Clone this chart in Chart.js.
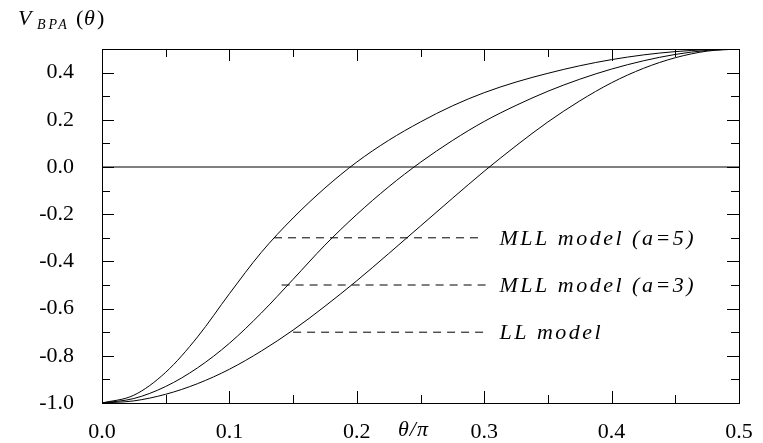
<!DOCTYPE html>
<html>
<head>
<meta charset="utf-8">
<title>V_BPA(theta)</title>
<script src="https://cdn.jsdelivr.net/npm/chart.js@4.4.0/dist/chart.umd.min.js"></script>
<style>
  body { margin: 0; background: white; }
  #chart { display: block; }
</style>
</head>
<body>
<canvas id="chart" width="763" height="443"></canvas>
<script>
// theta / pi sample points
const theta = [0, 0.025, 0.05, 0.075, 0.1, 0.125, 0.15, 0.175, 0.2, 0.225, 0.25,
  0.275, 0.3, 0.325, 0.35, 0.375, 0.4, 0.425, 0.45, 0.475, 0.5];

// MLL model (a=5) - leftmost curve
const vMLL5 = [-1, -0.967, -0.870, -0.720, -0.537, -0.362, -0.216, -0.089, 0.021, 0.113, 0.191,
  0.259, 0.315, 0.360, 0.397, 0.429, 0.455, 0.475, 0.489, 0.497, 0.5];
// MLL model (a=3) - middle curve
const vMLL3 = [-1, -0.981, -0.930, -0.851, -0.747, -0.619, -0.476, -0.331, -0.201, -0.084, 0.020,
  0.112, 0.193, 0.261, 0.321, 0.372, 0.415, 0.450, 0.477, 0.494, 0.5];
// LL model - rightmost curve
const vLL = [-1, -0.991, -0.963, -0.918, -0.857, -0.780, -0.691, -0.590, -0.482, -0.367, -0.250,
  -0.133, -0.018, 0.090, 0.191, 0.280, 0.357, 0.418, 0.463, 0.491, 0.5];

const xTicks = [0, 0.1, 0.2, 0.3, 0.4, 0.5];
const xMinorTicks = [0.05, 0.15, 0.25, 0.35, 0.45];
const yTicks = [-1.0, -0.8, -0.6, -0.4, -0.2, 0.0, 0.2, 0.4];
const yMinorTicks = [-0.9, -0.7, -0.5, -0.3, -0.1, 0.1, 0.3, 0.5];

// dashed legend lines
const modelNames = ['MLL model (a=5)', 'MLL model (a=3)', 'LL model'];
const modelLevels = [-0.3, -0.5, -0.7];
const dashStarts = [0.135, 0.141, 0.150];
const dashEnds = [0.298, 0.302, 0.302];
const nameStart = 0.312;

const toPoints = (xs, ys) => xs.map((x, i) => ({ x: x, y: ys[i] }));

const curveStyle = {
  borderColor: 'black',
  borderWidth: 1,
  pointRadius: 0,
  cubicInterpolationMode: 'monotone',
  fill: false
};

const datasets = [
  { ...curveStyle, label: modelNames[0], data: toPoints(theta, vMLL5) },
  { ...curveStyle, label: modelNames[1], data: toPoints(theta, vMLL3) },
  { ...curveStyle, label: modelNames[2], data: toPoints(theta, vLL) },
  // zero line
  { ...curveStyle, label: 'zero', data: [{ x: 0, y: 0 }, { x: 0.5, y: 0 }] }
];

modelLevels.forEach((lev, i) => {
  datasets.push({
    label: 'dash' + i,
    data: [{ x: dashStarts[i], y: lev }, { x: dashEnds[i], y: lev }],
    borderColor: 'black',
    borderWidth: 1,
    borderDash: [8, 6],
    pointRadius: 0
  });
});

const serif = '"Liberation Serif", "Times New Roman", serif';

// frame, inward ticks and the text bits
const decorations = {
  id: 'decorations',
  afterDatasetsDraw(chart) {
    const ctx = chart.ctx;
    const a = chart.chartArea;
    const xs = chart.scales.x;
    const ys = chart.scales.y;
    ctx.save();
    ctx.strokeStyle = 'black';
    ctx.lineWidth = 1;
    ctx.strokeRect(Math.round(a.left) + 0.5, Math.round(a.top) + 0.5,
      Math.round(a.right - a.left), Math.round(a.bottom - a.top));

    const tick = (x1, y1, x2, y2) => {
      ctx.beginPath();
      ctx.moveTo(x1, y1);
      ctx.lineTo(x2, y2);
      ctx.stroke();
    };
    xTicks.concat(xMinorTicks).forEach(v => {
      const len = xTicks.includes(v) ? 12 : 8;
      const px = Math.round(xs.getPixelForValue(v)) + 0.5;
      tick(px, a.bottom, px, a.bottom - len);
      tick(px, a.top, px, a.top + len);
    });
    yTicks.concat(yMinorTicks).forEach(v => {
      const len = yTicks.includes(v) ? 12 : 8;
      const py = Math.round(ys.getPixelForValue(v)) + 0.5;
      tick(a.left, py, a.left + len, py);
      tick(a.right, py, a.right - len, py);
    });

    // model names
    ctx.fillStyle = 'black';
    ctx.font = 'italic 22px ' + serif;
    ctx.textBaseline = 'middle';
    ctx.textAlign = 'left';
    ctx.letterSpacing = '2.5px';
    modelNames.forEach((name, i) => {
      ctx.fillText(name, xs.getPixelForValue(nameStart), ys.getPixelForValue(modelLevels[i]) + 1);
    });

    // x title
    ctx.textBaseline = 'alphabetic';
    ctx.letterSpacing = '1px';
    ctx.fillText('\u03B8/\u03C0', 398, 436);

    // y title V_BPA(theta)
    ctx.letterSpacing = '0px';
    ctx.fillText('V', 18, 25);
    ctx.font = 'italic 14px ' + serif;
    ctx.letterSpacing = '3px';
    ctx.fillText('BPA', 37, 29);
    ctx.letterSpacing = '0px';
    ctx.font = '22px ' + serif;
    ctx.fillText('(', 76, 25);
    ctx.font = 'italic 22px ' + serif;
    ctx.fillText('\u03B8', 84, 25);
    ctx.font = '22px ' + serif;
    ctx.fillText(')', 97, 25);
    ctx.restore();
  }
};

new Chart(document.getElementById('chart'), {
  type: 'line',
  data: { datasets: datasets },
  options: {
    responsive: false,
    animation: false,
    devicePixelRatio: 1,
    layout: { padding: { left: 0, right: 24, top: 49, bottom: 0 } },
    plugins: { legend: { display: false }, tooltip: { enabled: false } },
    scales: {
      x: {
        type: 'linear',
        min: 0,
        max: 0.5,
        grid: { display: false },
        border: { display: false },
        afterBuildTicks: scale => { scale.ticks = xTicks.map(v => ({ value: v })); },
        afterFit: scale => { scale.height = 40; },
        ticks: {
          color: 'black',
          padding: 8,
          maxRotation: 0,
          font: { family: serif, size: 22 },
          callback: v => v.toFixed(1)
        }
      },
      y: {
        type: 'linear',
        min: -1,
        max: 0.5,
        grid: { display: false },
        border: { display: false },
        afterBuildTicks: scale => { scale.ticks = yTicks.map(v => ({ value: v })); },
        afterFit: scale => { scale.width = 102; },
        ticks: {
          color: 'black',
          padding: 20,
          font: { family: serif, size: 22 },
          callback: v => v.toFixed(1)
        }
      }
    }
  },
  plugins: [decorations]
});
</script>
</body>
</html>
